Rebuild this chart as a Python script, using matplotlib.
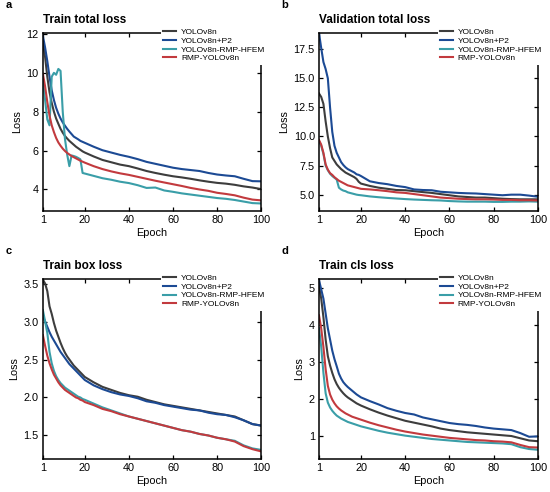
import matplotlib
matplotlib.use('Agg')
import matplotlib.pyplot as plt
import numpy as np

plt.rcParams['font.family'] = ['Liberation Sans', 'DejaVu Sans']

# 横轴: 1-20 每轮, 之后每4轮取一个点
epochs = list(range(1, 21)) + list(range(24, 101, 4))

names = ['YOLOv8n', 'YOLOv8n+P2', 'YOLOv8n-RMP-HFEM', 'RMP-YOLOv8n']
colors = ['#3d3d3d', '#1c4a94', '#3a9ea8', '#c23a3e']

# a: Train total loss
a_base = [11.6, 10.8, 9.8, 9.0, 8.45, 8.0, 7.65, 7.38, 7.12, 6.92, 6.75, 6.62, 6.5, 6.4, 6.3, 6.2, 6.12, 6.04, 5.96, 5.9,
          5.7, 5.52, 5.4, 5.28, 5.2, 5.08, 4.95, 4.85, 4.76, 4.68, 4.62, 4.55, 4.47, 4.4, 4.34, 4.3, 4.24, 4.16, 4.1, 4.02]
a_p2 = [11.9, 11.3, 10.6, 9.8, 9.1, 8.6, 8.2, 7.9, 7.65, 7.45, 7.28, 7.12, 6.98, 6.85, 6.72, 6.65, 6.58, 6.5, 6.45, 6.4,
        6.2, 6.02, 5.9, 5.78, 5.68, 5.56, 5.42, 5.32, 5.22, 5.12, 5.05, 5.0, 4.95, 4.85, 4.77, 4.72, 4.68, 4.55, 4.43, 4.42]
a_hfem = [9.6, 8.6, 7.6, 7.3, 9.8, 10.0, 9.9, 10.2, 10.1, 8.0, 6.6, 5.8, 5.2, 5.75, 5.72, 5.68, 5.62, 5.55, 4.85, 4.82,
          4.7, 4.58, 4.5, 4.4, 4.33, 4.22, 4.08, 4.1, 3.95, 3.88, 3.8, 3.74, 3.68, 3.62, 3.56, 3.52, 3.46, 3.38, 3.3, 3.28]
a_rmp = [9.95, 9.3, 8.5, 7.8, 7.3, 6.95, 6.65, 6.42, 6.25, 6.1, 5.98, 5.88, 5.8, 5.72, 5.66, 5.6, 5.54, 5.48, 5.43, 5.38,
         5.2, 5.05, 4.93, 4.83, 4.75, 4.65, 4.55, 4.45, 4.36, 4.27, 4.18, 4.08, 4.0, 3.93, 3.83, 3.77, 3.7, 3.58, 3.48, 3.44]

# b: Validation total loss
b_base = [13.7, 13.4, 12.8, 11.3, 10.0, 9.0, 8.2, 7.9, 7.6, 7.4, 7.2, 7.05, 6.9, 6.8, 6.7, 6.6, 6.5, 6.35, 6.1, 5.95,
          5.75, 5.6, 5.5, 5.4, 5.38, 5.3, 5.22, 5.15, 5.05, 4.95, 4.85, 4.8, 4.75, 4.75, 4.7, 4.65, 4.62, 4.6, 4.6, 4.6]
b_p2 = [18.9, 17.6, 16.4, 15.8, 15.0, 12.5, 10.4, 9.2, 8.6, 8.2, 7.8, 7.55, 7.35, 7.2, 7.1, 7.0, 6.9, 6.75, 6.7, 6.6,
        6.15, 6.0, 5.9, 5.75, 5.65, 5.45, 5.4, 5.38, 5.25, 5.2, 5.15, 5.12, 5.1, 5.05, 5.0, 4.95, 5.0, 5.0, 4.92, 4.82]
b_hfem = [9.6, 9.2, 8.5, 7.5, 7.1, 6.8, 6.6, 6.45, 6.3, 5.6, 5.45, 5.35, 5.3, 5.2, 5.15, 5.1, 5.05, 5.0, 4.97, 4.95,
          4.85, 4.78, 4.72, 4.67, 4.62, 4.58, 4.55, 4.52, 4.5, 4.45, 4.42, 4.4, 4.4, 4.4, 4.38, 4.38, 4.4, 4.4, 4.42, 4.4]
b_rmp = [9.7, 9.3, 8.6, 7.6, 7.15, 6.85, 6.7, 6.5, 6.35, 6.2, 6.1, 6.0, 5.9, 5.8, 5.75, 5.7, 5.65, 5.6, 5.55, 5.5,
         5.45, 5.38, 5.3, 5.2, 5.15, 5.05, 4.95, 4.85, 4.75, 4.7, 4.65, 4.62, 4.6, 4.6, 4.58, 4.55, 4.55, 4.52, 4.52, 4.5]

# c: Train box loss
c_base = [3.55, 3.5, 3.4, 3.2, 3.1, 2.98, 2.88, 2.8, 2.72, 2.65, 2.59, 2.54, 2.5, 2.46, 2.42, 2.39, 2.36, 2.33, 2.3, 2.27,
          2.2, 2.14, 2.1, 2.06, 2.03, 2.01, 1.97, 1.94, 1.91, 1.89, 1.87, 1.85, 1.83, 1.81, 1.79, 1.77, 1.75, 1.7, 1.65, 1.63]
c_p2 = [3.07, 3.0, 2.93, 2.86, 2.8, 2.75, 2.7, 2.65, 2.6, 2.56, 2.52, 2.48, 2.44, 2.41, 2.38, 2.35, 2.32, 2.29, 2.26, 2.23,
        2.16, 2.11, 2.07, 2.04, 2.02, 1.99, 1.95, 1.93, 1.9, 1.88, 1.86, 1.84, 1.83, 1.8, 1.78, 1.77, 1.74, 1.7, 1.65, 1.63]
c_hfem = [3.15, 3.0, 2.85, 2.6, 2.45, 2.35, 2.28, 2.23, 2.19, 2.16, 2.13, 2.11, 2.09, 2.07, 2.05, 2.03, 2.01, 2.0, 1.98, 1.97,
          1.92, 1.87, 1.83, 1.79, 1.75, 1.72, 1.69, 1.66, 1.63, 1.6, 1.57, 1.55, 1.52, 1.5, 1.47, 1.45, 1.43, 1.37, 1.33, 1.31]
c_rmp = [2.82, 2.68, 2.55, 2.45, 2.37, 2.3, 2.25, 2.2, 2.16, 2.13, 2.1, 2.08, 2.06, 2.04, 2.02, 2.0, 1.99, 1.97, 1.96, 1.94,
         1.9, 1.85, 1.82, 1.78, 1.75, 1.72, 1.69, 1.66, 1.63, 1.6, 1.57, 1.55, 1.52, 1.5, 1.47, 1.45, 1.42, 1.36, 1.32, 1.29]

# d: Train cls loss
d_base = [5.05, 4.7, 4.2, 3.6, 3.15, 2.9, 2.7, 2.53, 2.4, 2.3, 2.22, 2.15, 2.09, 2.04, 2.0, 1.96, 1.92, 1.88, 1.85, 1.82,
          1.72, 1.63, 1.55, 1.48, 1.41, 1.36, 1.31, 1.26, 1.2, 1.16, 1.13, 1.1, 1.08, 1.06, 1.04, 1.02, 1.0, 0.94, 0.88, 0.86]
d_p2 = [5.2, 4.95, 4.7, 4.3, 3.9, 3.6, 3.3, 3.07, 2.88, 2.68, 2.55, 2.45, 2.38, 2.32, 2.27, 2.22, 2.17, 2.12, 2.08, 2.04,
        1.94, 1.85, 1.75, 1.68, 1.62, 1.58, 1.5, 1.45, 1.4, 1.35, 1.32, 1.3, 1.27, 1.23, 1.2, 1.18, 1.16, 1.08, 0.98, 0.99]
d_hfem = [3.9, 3.4, 2.7, 2.15, 1.9, 1.77, 1.68, 1.61, 1.55, 1.51, 1.47, 1.44, 1.41, 1.38, 1.36, 1.34, 1.32, 1.3, 1.28, 1.26,
          1.2, 1.14, 1.09, 1.05, 1.01, 0.98, 0.95, 0.92, 0.9, 0.88, 0.86, 0.84, 0.83, 0.82, 0.81, 0.8, 0.78, 0.7, 0.65, 0.63]
d_rmp = [4.25, 3.9, 3.4, 2.8, 2.35, 2.12, 1.98, 1.88, 1.8, 1.74, 1.69, 1.65, 1.61, 1.58, 1.55, 1.52, 1.5, 1.48, 1.46, 1.44,
         1.36, 1.29, 1.23, 1.17, 1.12, 1.08, 1.04, 1.01, 0.98, 0.95, 0.93, 0.91, 0.89, 0.88, 0.86, 0.85, 0.83, 0.76, 0.7, 0.69]

panels = [
    ('a', 'Train total loss', [a_base, a_p2, a_hfem, a_rmp], (2.89, 12.05), [4, 6, 8, 10, 12], '%d'),
    ('b', 'Validation total loss', [b_base, b_p2, b_hfem, b_rmp], (3.59, 18.9), [5, 7.5, 10, 12.5, 15, 17.5], '%.1f'),
    ('c', 'Train box loss', [c_base, c_p2, c_hfem, c_rmp], (1.19, 3.56), [1.5, 2.0, 2.5, 3.0, 3.5], '%.1f'),
    ('d', 'Train cls loss', [d_base, d_p2, d_hfem, d_rmp], (0.38, 5.23), [1, 2, 3, 4, 5], '%d'),
]

# 每个子图的位置 [left, bottom, width, height]
rects = [
    [0.078, 0.571, 0.397, 0.362],
    [0.580, 0.571, 0.398, 0.362],
    [0.078, 0.067, 0.397, 0.366],
    [0.580, 0.067, 0.398, 0.366],
]

fig = plt.figure(figsize=(5.5, 4.92), dpi=100)
for (letter, title, series, ylim, yticks, fmt), rect in zip(panels, rects):
    ax = fig.add_axes(rect)
    for ys, name, c in zip(series, names, colors):
        ax.plot(epochs, ys, color=c, lw=1.5, label=name)
    ax.set_xlim(1, 100)
    ax.set_ylim(*ylim)
    ax.set_xticks([1, 20, 40, 60, 80, 100])
    ax.set_yticks(yticks)
    ax.yaxis.set_major_formatter(matplotlib.ticker.FormatStrFormatter(fmt))
    ax.tick_params(direction='in', top=True, right=True, length=3, width=0.9,
                   labelsize=7.8, pad=3)
    for s in ax.spines.values():
        s.set_linewidth(1.1)
    ax.set_xlabel('Epoch', fontsize=7.8, labelpad=2)
    ax.set_ylabel('Loss', fontsize=7.8, labelpad=3)
    ax.set_title(title, loc='left', fontsize=8.5, fontweight='bold', pad=7)
    ax.text(-0.17, 1.13, letter, transform=ax.transAxes, fontsize=8, fontweight='bold',
            ha='left', va='bottom')
    leg = ax.legend(loc='upper right', bbox_to_anchor=(1.03, 1.04), fontsize=6,
                    handlelength=1.5, handletextpad=0.6, labelspacing=0.1,
                    borderaxespad=0, borderpad=0.3, fancybox=False, framealpha=1)
    leg.get_frame().set_edgecolor('none')
    leg.get_frame().set_facecolor('white')

fig.savefig('out.png', dpi=100)
